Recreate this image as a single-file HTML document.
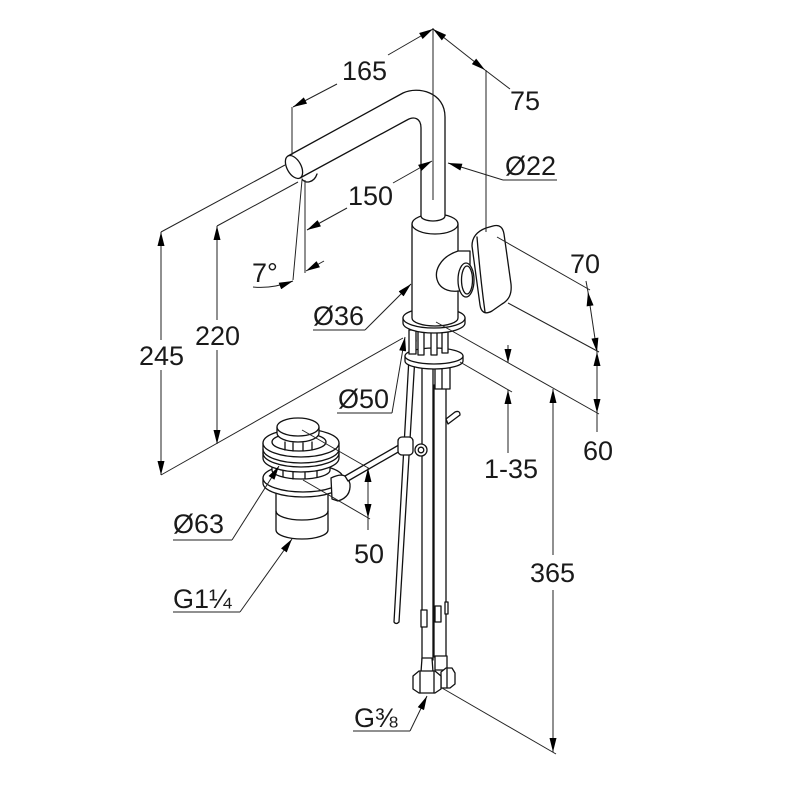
<!DOCTYPE html>
<html><head><meta charset="utf-8"><style>
html,body{margin:0;padding:0;background:#fff;}
svg{display:block;}
text{font-family:"Liberation Sans",Arial,sans-serif;font-size:27px;fill:#1a1a1a;}
</style></head><body>
<svg width="800" height="800" viewBox="0 0 800 800" xmlns="http://www.w3.org/2000/svg">
<defs>
<marker id="a" viewBox="0 0 16 8" refX="16" refY="4" markerWidth="15" markerHeight="7" markerUnits="userSpaceOnUse" orient="auto-start-reverse"><path d="M0,0 L16,4 L0,8 Z" fill="#000"/></marker>
</defs>
<rect width="800" height="800" fill="#fff"/>

<g fill="#fff" stroke="#111" stroke-width="1.3" stroke-linejoin="round" stroke-linecap="round">
 <!-- lift rod -->
 <path d="M410,340 L416,340 L399,622 Q396,625 394,622 Z"/>
 <!-- tubes -->
 <rect x="422" y="360" width="11" height="300"/>
 <rect x="434" y="385" width="12" height="272"/>
 <!-- stub pipe -->
 <path d="M446,419 L455,412 Q460,410 460,415 L448,424 Z"/>
 <!-- clips -->
 <rect x="421" y="610" width="6" height="17"/>
 <rect x="435" y="606" width="6" height="16"/>
 <rect x="445" y="602" width="3" height="12"/>
 <!-- bottom nuts -->
 <path d="M422,658 L432,658 L433,672 L421,672 Z"/>
 <path d="M435,656 L447,656 L447,670 L435,670 Z"/>
 <path d="M441,672 L446,668 L452,668 L455,673 L455,684 L450,688 L441,688 Z"/>
 <path d="M413,676 L419,671 L435,671 L441,676 L441,689 L435,693 L419,693 L413,689 Z"/>
 <line x1="420" y1="672" x2="420" y2="693"/>
 <line x1="434" y1="672" x2="434" y2="693"/>
 <line x1="447" y1="669" x2="447" y2="688"/>

 <!-- drain -->
 <path d="M276,488 L276,530 A26,9 0 0 0 328,530 L328,488 Z"/>
 <path d="M276,511 A26,9 0 0 0 328,511" fill="none"/>
 <path d="M263,478 L263,483 A40,14 0 0 0 343,483 L343,478 Z"/>
 <ellipse cx="303" cy="478" rx="40" ry="14"/>
 <path d="M272,458 L272,470 A29,9 0 0 0 330,470 L330,458 Z"/>
 <g fill="none">
  <line x1="283" y1="468" x2="283" y2="477"/><line x1="293" y1="470" x2="293" y2="479"/>
  <line x1="305" y1="470" x2="305" y2="479"/><line x1="317" y1="468" x2="317" y2="477"/>
 </g>
 <path d="M263,443 L263,458 A38,14 0 0 0 339,458 L339,443 Z"/>
 <ellipse cx="301" cy="443" rx="38" ry="14"/>
 <path d="M263,449 A38,14 0 0 0 339,449" fill="none"/>
 <path d="M263,453 A38,14 0 0 0 339,453" fill="none"/>
 <ellipse cx="299" cy="442" rx="27" ry="9"/>
 <g fill="none">
  <line x1="285" y1="442" x2="285" y2="450"/><line x1="293" y1="443" x2="293" y2="451"/>
  <line x1="303" y1="443" x2="303" y2="451"/><line x1="312" y1="442" x2="312" y2="450"/>
 </g>
 <path d="M277,427 L277,433 A21,9 0 0 0 319,433 L319,427 Z"/>
 <ellipse cx="298" cy="427" rx="21" ry="9"/>
 <!-- overflow bump -->
 <path d="M331,478 Q347,470 350,484 Q351,497 338,501 L332,499 Z"/>
 <!-- rod to clamp -->
 <path d="M345,476 L404,442 L407,447 L348,481 Z"/>
 <!-- clamp -->
 <rect x="398" y="437" width="15" height="18" rx="4"/>
 <circle cx="421" cy="450" r="6"/>
 <circle cx="421" cy="450" r="2.8"/>

 <!-- nut under plate -->
 <rect x="435" y="367" width="15" height="22"/>
 <line x1="442" y1="367" x2="442" y2="389"/>
 <!-- plate -->
 <path d="M405,356 L405,361 A29,8 0 0 0 463,361 L463,356 Z"/>
 <ellipse cx="434" cy="356" rx="29" ry="8"/>
 <!-- studs -->
 <rect x="409" y="330" width="7" height="24"/>
 <rect x="418" y="330" width="6" height="25"/>
 <rect x="431" y="330" width="6" height="25"/>
 <rect x="442" y="330" width="6" height="23"/>
 <!-- ring -->
 <path d="M403,318 L403,323 A31,10 0 0 0 465,323 L465,318 Z"/>
 <ellipse cx="434" cy="318" rx="31" ry="10"/>
 <!-- body -->
 <path d="M412,224 L412,318 A23,8 0 0 0 458,318 L458,224 Z"/>
 <ellipse cx="435" cy="224" rx="23" ry="10"/>
 <!-- collar -->
 <path d="M458,251 C440,257 432,272 439,284 C443,290 451,292 458,291 L470,291 L470,251 Z"/>
 <ellipse cx="466" cy="280" rx="8" ry="17"/>
 <ellipse cx="467" cy="280" rx="5.5" ry="14" fill="none"/>
 <!-- lever -->
 <path d="M472,246 C472,236 478,231 486,228 L493,226 C500,224 503,228 504,234 L511,284 C512,294 509,300 502,304 L492,311 C485,315 481,312 480,305 Z"/>
 <path d="M477,237 C479,262 482,290 485,312" fill="none"/>
 <!-- spout -->
 <path d="M288,156 L403,93 C418,86 445,92 445,117 L445,216 A12,5 0 0 1 421,216 L421,128 C421,118 414,116 407,120 L300,178 Z"/>
 <ellipse cx="294" cy="167" rx="7" ry="12.5" transform="rotate(-29 294 167)"/>
 <path d="M302,179 C305,184 314,183 317,174" fill="none"/>
</g>

<g fill="none" stroke="#222" stroke-width="1">
 <!-- centerline -->
 <line x1="433" y1="28" x2="433" y2="200"/>
 <!-- 165 -->
 <line x1="293" y1="107" x2="337" y2="84" marker-start="url(#a)"/>
 <line x1="388" y1="55" x2="433" y2="29" marker-end="url(#a)"/>
 <line x1="292" y1="107" x2="292" y2="155"/>
 <!-- 75 -->
 <line x1="433" y1="29" x2="485" y2="70" marker-start="url(#a)" marker-end="url(#a)"/>
 <line x1="485" y1="70" x2="510" y2="89"/>
 <line x1="486" y1="70" x2="486" y2="232"/>
 <!-- Ø22 -->
 <line x1="503" y1="180" x2="557" y2="180"/>
 <line x1="503" y1="180" x2="448" y2="163" marker-end="url(#a)"/>
 <!-- 150 -->
 <line x1="307" y1="230" x2="347" y2="208" marker-start="url(#a)"/>
 <line x1="393" y1="183" x2="432" y2="161" marker-end="url(#a)"/>
 <!-- 7° -->
 <line x1="305" y1="180" x2="305" y2="273"/>
 <line x1="302" y1="180" x2="293" y2="280"/>
 <path d="M253,287 Q272,289 293,281" marker-end="url(#a)"/>
 <line x1="324" y1="261" x2="306" y2="271" marker-end="url(#a)"/>
 <!-- 245 -->
 <line x1="161" y1="232" x2="161" y2="340" marker-start="url(#a)"/>
 <line x1="161" y1="370" x2="161" y2="475" marker-end="url(#a)"/>
 <line x1="161" y1="232" x2="285" y2="165"/>
 <line x1="161" y1="475" x2="403" y2="338"/>
 <!-- 220 -->
 <line x1="217" y1="226" x2="217" y2="320" marker-start="url(#a)"/>
 <line x1="217" y1="350" x2="217" y2="444" marker-end="url(#a)"/>
 <line x1="217" y1="226" x2="298" y2="182"/>
 <!-- Ø36 -->
 <line x1="313" y1="330" x2="365" y2="330"/>
 <line x1="365" y1="330" x2="411" y2="284" marker-end="url(#a)"/>
 <!-- Ø50 -->
 <line x1="337" y1="413" x2="392" y2="413"/>
 <line x1="392" y1="413" x2="405" y2="337" marker-end="url(#a)"/>
 <!-- 70 / 60 -->
 <line x1="497" y1="237" x2="590" y2="290"/>
 <line x1="588" y1="292" x2="597" y2="352" marker-start="url(#a)" marker-end="url(#a)"/>
 <line x1="586" y1="281" x2="588" y2="292"/>
 <line x1="508" y1="303" x2="599" y2="352"/>
 <line x1="597" y1="352" x2="597" y2="413" marker-start="url(#a)" marker-end="url(#a)"/>
 <line x1="597" y1="413" x2="597" y2="432"/>
 <line x1="436" y1="322" x2="599" y2="414"/>
 <!-- 1-35 -->
 <line x1="508" y1="345" x2="508" y2="363" marker-end="url(#a)"/>
 <line x1="508" y1="390" x2="508" y2="453" marker-start="url(#a)"/>
 <line x1="460" y1="362" x2="512" y2="392"/>
 <!-- 365 -->
 <line x1="553" y1="389" x2="553" y2="555" marker-start="url(#a)"/>
 <line x1="553" y1="590" x2="553" y2="752" marker-end="url(#a)"/>
 <line x1="442" y1="688" x2="556" y2="754"/>
 <!-- 50 drain -->
 <line x1="302" y1="430" x2="370" y2="469"/>
 <line x1="303" y1="480" x2="370" y2="519"/>
 <line x1="368" y1="468" x2="368" y2="518" marker-start="url(#a)" marker-end="url(#a)"/>
 <line x1="368" y1="518" x2="368" y2="530"/>
 <!-- Ø63 -->
 <line x1="173" y1="540" x2="232" y2="540"/>
 <line x1="232" y1="540" x2="279" y2="466" marker-end="url(#a)"/>
 <!-- G1 1/4 -->
 <line x1="173" y1="612" x2="240" y2="612"/>
 <line x1="240" y1="612" x2="292" y2="539" marker-end="url(#a)"/>
 <!-- G 3/8 -->
 <line x1="353" y1="731" x2="410" y2="731"/>
 <line x1="410" y1="731" x2="427" y2="696" marker-end="url(#a)"/>
</g>

<g>
 <text x="342" y="80">165</text>
 <text x="510" y="110">75</text>
 <text x="505" y="175">Ø22</text>
 <text x="348" y="205">150</text>
 <text x="252" y="282">7°</text>
 <text x="139" y="365">245</text>
 <text x="195" y="345">220</text>
 <text x="313" y="325">Ø36</text>
 <text x="338" y="408">Ø50</text>
 <text x="570" y="273">70</text>
 <text x="583" y="460">60</text>
 <text x="484" y="478">1-35</text>
 <text x="530" y="582">365</text>
 <text x="173" y="533">Ø63</text>
 <text x="173" y="608">G1¼</text>
 <text x="354" y="563">50</text>
 <text x="354" y="727">G⅜</text>
</g>
</svg>
</body></html>
